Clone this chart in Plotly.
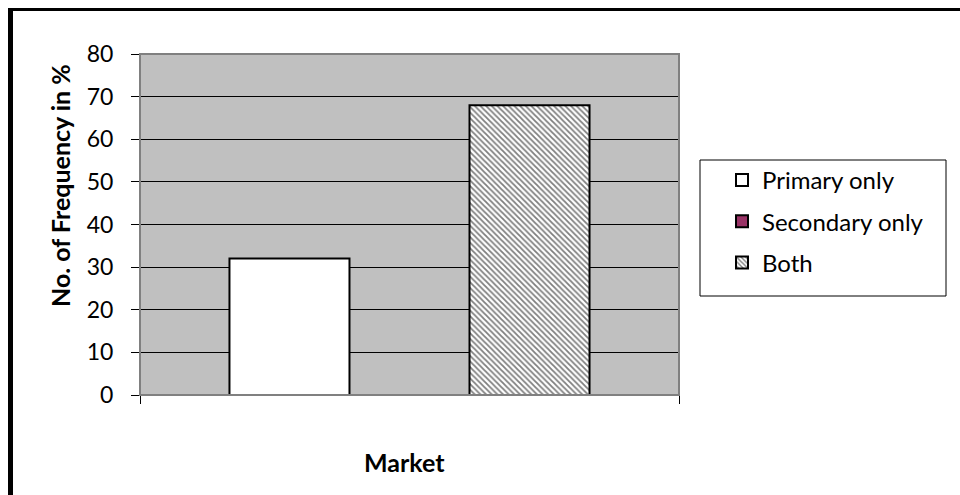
import plotly.graph_objects as go

categories = ["Market"]
series_names = ["Primary only", "Secondary only", "Both"]
values = [[32], [0], [68]]
y_ticks = [0, 10, 20, 30, 40, 50, 60, 70, 80]
x_title = "Market"
y_title = "No. of Frequency in %"

L, R, T, B = 140, 679, 54, 395
W, H = 960, 495
pw, ph = R - L, B - T

def px(x):
    return (x - L) / pw

def py(y):
    return (B - y) / ph

FONT = "Lato"
fig = go.Figure()
fig.add_trace(go.Bar(x=categories, y=values[0], name=series_names[0],
                     marker=dict(color="white", line=dict(color="black", width=2)),
                     legendgroup="a"))
fig.add_trace(go.Bar(x=categories, y=values[1], name=series_names[1],
                     marker=dict(color="#993366", line=dict(color="black", width=2)),
                     legendgroup="b"))
fig.add_trace(go.Bar(x=categories, y=values[2], name=series_names[2],
                     marker=dict(color="white", line=dict(color="black", width=2),
                                 pattern=dict(shape="\\", fgcolor="black", bgcolor="white",
                                              size=4, solidity=0.45)),
                     legendgroup="c"))

fig.update_layout(
    width=W, height=H,
    margin=dict(l=L, r=W - R, t=T, b=H - B, pad=0),
    paper_bgcolor="white", plot_bgcolor="#C0C0C0",
    barmode="group", bargap=0.332, bargroupgap=0,
    font=dict(family=FONT, size=22, color="black"),
    showlegend=True,
    legend=dict(x=px(722), y=py(158), xanchor="left", yanchor="top",
                bgcolor="rgba(0,0,0,0)", borderwidth=0,
                font=dict(family=FONT, size=24, color="black"),
                tracegroupgap=7, traceorder="grouped"),
    xaxis=dict(type="category", range=[-0.5, 0.5], showticklabels=False,
               ticks="outside", tickson="boundaries", ticklen=8, tickcolor="black",
               showline=True, linecolor="black", linewidth=1, showgrid=False),
    yaxis=dict(range=[0, 80], tickvals=y_ticks, ticks="outside", ticklen=8,
               tickcolor="black", showline=True, linecolor="#808080", linewidth=1,
               showgrid=True, gridcolor="black", gridwidth=1, zeroline=False,
               ticklabelstandoff=13,
               tickfont=dict(family=FONT, size=23)),
    annotations=[
        dict(text="<b>" + x_title + "</b>", xref="paper", yref="paper",
             x=px(404), y=py(462), xanchor="center", yanchor="middle",
             showarrow=False, font=dict(family=FONT, size=25)),
        dict(text="<b>" + y_title + "</b>", xref="paper", yref="paper",
             x=px(60), y=py(186), xanchor="center", yanchor="middle", textangle=-90,
             showarrow=False, font=dict(family=FONT, size=25)),
    ],
    shapes=[
        dict(type="rect", xref="paper", yref="paper", x0=0, x1=1, y0=0, y1=1,
             line=dict(color="#808080", width=2), fillcolor="rgba(0,0,0,0)", layer="above"),
        dict(type="rect", xref="paper", yref="paper", x0=px(700), x1=px(946),
             y0=py(296), y1=py(160), line=dict(color="black", width=1),
             fillcolor="rgba(0,0,0,0)"),
        dict(type="line", xref="paper", yref="paper", x0=px(10.5), x1=px(10.5),
             y0=py(8), y1=py(500), line=dict(color="black", width=5)),
        dict(type="line", xref="paper", yref="paper", x0=px(8), x1=px(965),
             y0=py(9.5), y1=py(9.5), line=dict(color="black", width=3)),
    ],
)

fig.write_html("out.html")
